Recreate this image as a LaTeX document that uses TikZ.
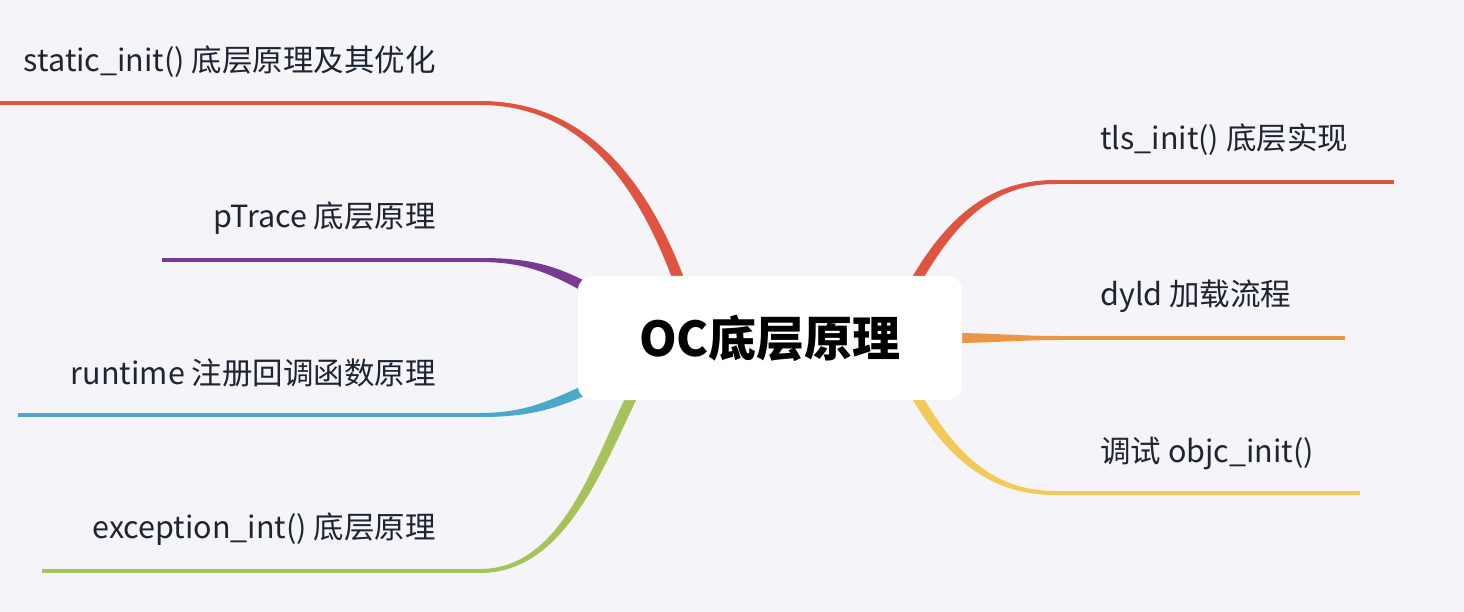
\documentclass[tikz,border=0pt]{standalone}
\usepackage{fontspec}
\setmainfont{Noto Sans CJK SC}
\usetikzlibrary{calc}

\definecolor{bgcol}{HTML}{F4F4F9}
\definecolor{txtcol}{HTML}{1E2430}
\definecolor{redbr}{HTML}{DE5441}
\definecolor{purplebr}{HTML}{7A3A94}
\definecolor{bluebr}{HTML}{4AA8C8}
\definecolor{greenbr}{HTML}{A6C25A}
\definecolor{orangebr}{HTML}{EA9744}
\definecolor{yellowbr}{HTML}{F2CA58}

% tapered limb: [looseness]{colour}{joint}{root}{out}{in}{half width at root}
\newcommand{\limb}[7][1]{%
  \fill[#2] ($(#3)+(0,-2)$) to[out=#5,in=#6,looseness=#1] ($(#4)+(#7)$)
    -- ($(#4)-(#7)$) to[out=#6,in=#5,looseness=#1] ($(#3)+(0,2)$) -- cycle;}

\tikzset{
  leaf/.style={font=\fontsize{30.5}{36}\selectfont, text=txtcol, inner sep=0pt},
  twig/.style={line width=4pt},
  hub/.style={fill=white, rounded corners=14pt, minimum width=384pt,
    minimum height=124pt, inner sep=0pt, font=\fontsize{48}{56}\selectfont\bfseries}
}

\begin{document}
\begin{tikzpicture}[x=1pt,y=-1pt]
\useasboundingbox (0,0) rectangle (1464,612);
\fill[bgcol] (0,0) rectangle (1464,612);

\coordinate (j1) at (480,103); \coordinate (e1) at (0,103);
\coordinate (j2) at (480,260); \coordinate (e2) at (162,260);
\coordinate (j3) at (480,415); \coordinate (e3) at (18,415);
\coordinate (j4) at (480,571); \coordinate (e4) at (42,571);
\coordinate (j5) at (1055,182); \coordinate (e5) at (1394,182);
\coordinate (j6) at (1060,338); \coordinate (e6) at (1345,338);
\coordinate (j7) at (1055,493); \coordinate (e7) at (1360,493);

\coordinate (r1) at (681,286);
\coordinate (r2) at (594,292);
\coordinate (r3) at (594,386);
\coordinate (r4) at (634,392);
\coordinate (r5) at (914,284);
\coordinate (r6) at (950,338);
\coordinate (r7) at (914,392);

\limb{redbr}{j1}{r1}{0}{110}{6,0}
\limb{purplebr}{j2}{r2}{0}{150}{2.5,-4.5}
\limb{bluebr}{j3}{r3}{0}{205}{-2.5,-4.5}
\limb[0.9]{greenbr}{j4}{r4}{0}{244}{-6,0}
\limb{redbr}{j5}{r5}{180}{60}{-6,0}
\limb{orangebr}{j6}{r6}{180}{0}{0,-5}
\limb{yellowbr}{j7}{r7}{180}{300}{6,0}

\foreach \j/\e/\c in {j1/e1/redbr, j2/e2/purplebr, j3/e3/bluebr, j4/e4/greenbr,
    j5/e5/redbr, j6/e6/orangebr, j7/e7/yellowbr}
  \draw[twig, \c] (\j) -- (\e);

\node[leaf, anchor=east] (t1) at (436,62) {static\_init() 底层原理及其优化};
\node[leaf, anchor=east] (t2) at (436,218) {pTrace 底层原理};
\node[leaf, anchor=east] (t3) at (436,373) {runtime 注册回调函数原理};
\node[leaf, anchor=east] (t4) at (436,529) {exception\_int() 底层原理};
\node[leaf, anchor=west] (t5) at (1100,140) {tls\_init() 底层实现};
\node[leaf, anchor=west] (t6) at (1100,296) {dyld 加载流程};
\node[leaf, anchor=west] (t7) at (1100,453) {调试 objc\_init()};

\node[hub] (oc) at (770,338) {OC底层原理};
\end{tikzpicture}
\end{document}
